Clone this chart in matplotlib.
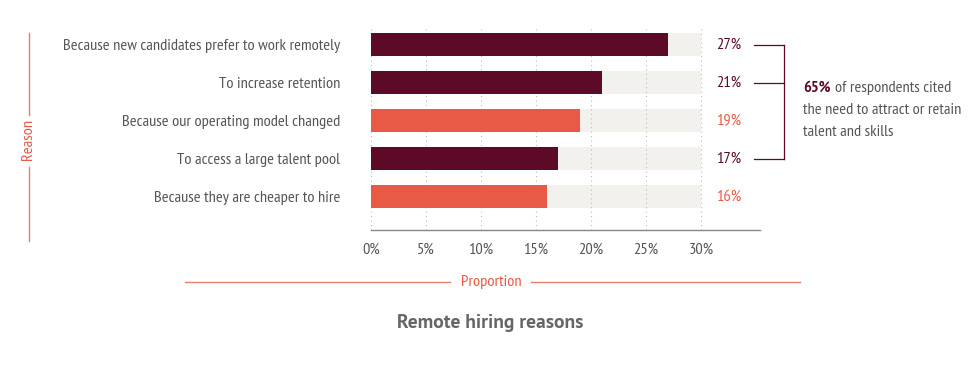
import matplotlib
matplotlib.use("Agg")
import matplotlib.pyplot as plt
from matplotlib import font_manager as fm

names = {f.name for f in fm.fontManager.ttflist}
def pick(cands):
    for c in cands:
        if c in names:
            return c
    return "DejaVu Sans"
FONT = pick(["PT Sans Narrow", "Fira Sans Condensed", "Roboto Condensed", "Asap Condensed",
             "Archivo Narrow", "Barlow Semi Condensed", "Encode Sans Condensed"])
TFONT = pick(["PT Sans", "Fira Sans", "Open Sans"])
plt.rcParams['font.family'] = [FONT, 'DejaVu Sans']

categories = ["Because new candidates prefer to work remotely",
              "To increase retention",
              "Because our operating model changed",
              "To access a large talent pool",
              "Because they are cheaper to hire"]
values = [27, 21, 19, 17, 16]
highlight = [True, True, False, True, False]
xticks = [0, 5, 10, 15, 20, 25, 30]
xticklabels = ["0%", "5%", "10%", "15%", "20%", "25%", "30%"]
max_val = 30

DARK = "#5c0a28"
ORANGE = "#e85a45"
BG = "#f3f1ed"
GREY = "#555555"
FS = 11.8

W, H = 980, 367
fig = plt.figure(figsize=(W/100, H/100), dpi=100)

x0, x1 = 371, 760
y0, y1 = 230, 29
ax = fig.add_axes([x0/W, 1 - y0/H, (x1-x0)/W, (y0-y1)/H])
px_per_pct = (701 - 371) / 30.0
ax.set_xlim(0, (x1 - x0) / px_per_pct)
n = len(categories)
row_px, first_px = 38.0, 44.5
ax.set_ylim((y0 - first_px) / row_px, -(first_px - y1) / row_px)

ypos = list(range(n))
bh = 23.5 / row_px
ax.barh(ypos, [max_val]*n, height=bh, color=BG, zorder=1)
colors = [DARK if h else ORANGE for h in highlight]
ax.barh(ypos, values, height=bh, color=colors, zorder=3)

for xt in xticks:
    ax.axvline(xt, color="#bbbbbb", lw=0.8, ls=(0, (1, 3)), zorder=2)

for s in ["top", "right", "left"]:
    ax.spines[s].set_visible(False)
ax.spines["bottom"].set_color("#888888")
ax.spines["bottom"].set_linewidth(1.0)

ax.set_xticks(xticks)
ax.set_xticklabels(xticklabels, fontsize=FS, color=GREY)
ax.tick_params(axis="x", length=0, pad=9)
ax.set_yticks(ypos)
ax.set_yticklabels(categories, fontsize=FS, color=GREY)
ax.tick_params(axis="y", length=0, pad=22)

for y, v, c in zip(ypos, values, colors):
    ax.text(max_val + 1.4, y, f"{v}%", color=c, fontsize=FS, va="center", ha="left")

bx_start, bx_end = 754, 784
rows_b = [i for i, h in enumerate(highlight) if h]
def ypix(i):
    return first_px + row_px*i
for i in rows_b:
    fig.add_artist(plt.Line2D([bx_start/W, bx_end/W], [1-ypix(i)/H]*2, color=DARK, lw=0.9))
fig.add_artist(plt.Line2D([bx_end/W]*2, [1-ypix(rows_b[0])/H, 1-ypix(rows_b[-1])/H], color=DARK, lw=0.9))

total = sum(v for v, h in zip(values, highlight) if h)
t1 = fig.text(803/W, 1-88/H, f"{total}%", fontsize=FS, color=DARK, fontweight="bold", va="center", ha="left")
fig.canvas.draw()
bb = t1.get_window_extent()
fig.text((bb.x1 + 4)/W, 1-88/H, "of respondents cited", fontsize=FS, color=GREY, va="center", ha="left")
fig.text(803/W, 1-110/H, "the need to attract or retain", fontsize=FS, color=GREY, va="center", ha="left")
fig.text(803/W, 1-132/H, "talent and skills", fontsize=FS, color=GREY, va="center", ha="left")

LINE = "#e2806f"
fig.text(28/W, 1-139/H, "Reason", rotation=90, fontsize=FS, color=ORANGE, va="center", ha="center")
fig.add_artist(plt.Line2D([29/W]*2, [1-33/H, 1-115/H], color=LINE, lw=1))
fig.add_artist(plt.Line2D([29/W]*2, [1-167/H, 1-241/H], color=LINE, lw=1))

fig.text(491/W, 1-282/H, "Proportion", fontsize=FS, color=ORANGE, va="center", ha="center")
fig.add_artist(plt.Line2D([185/W, 450/W], [1-282/H]*2, color=LINE, lw=1))
fig.add_artist(plt.Line2D([531/W, 800/W], [1-282/H]*2, color=LINE, lw=1))

fig.text(490/W, 1-323/H, "Remote hiring reasons", fontsize=14, color="#666666",
         fontweight="bold", va="center", ha="center", family=[TFONT, "DejaVu Sans"])

fig.savefig("out.png", dpi=100, facecolor="white")
